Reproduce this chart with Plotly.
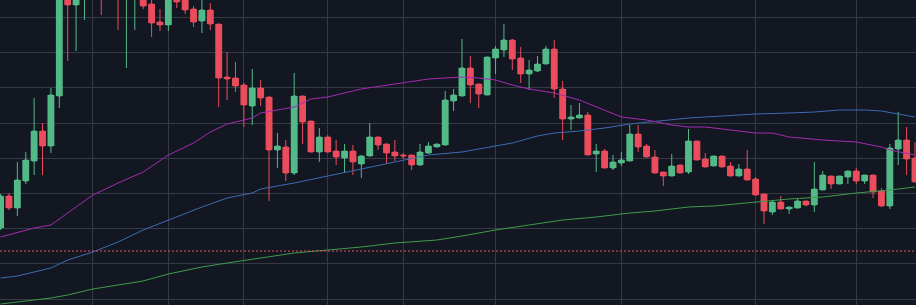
import plotly.graph_objects as go

# ---------------- data ----------------
idx = list(range(110))

open_ = [172,204,192,219,239,269,254,304,404,395,
         406,418,410,402,414,404,412,404,396,378,
         375,405,402,391,379,390,376,323,322,315,
         294,312,303,250,253,227,304,279,248,263,
         249,242,249,236,244,263,256,248,245,245,
         235,247,253,255,299,304,332,316,305,342,
         350,360,342,326,329,336,351,311,281,282,
         285,246,249,232,237,239,266,254,243,228,
         224,235,228,259,241,234,244,234,224,231,
         221,206,188,198,191,192,199,195,210,224,
         216,223,229,219,225,209,194,251,260,242]
close = [204,192,220,240,269,254,305,408,395,406,
         418,410,402,414,404,412,420,394,377,375,
         405,398,390,378,390,376,322,321,314,295,
         312,302,250,254,227,304,278,248,263,248,
         243,249,238,244,263,255,247,244,244,235,
         248,254,256,300,305,332,315,306,343,351,
         360,341,326,330,336,351,311,281,283,285,
         245,249,232,238,240,266,253,243,227,224,
         234,227,259,240,233,244,233,224,231,220,
         205,189,198,191,193,199,195,211,225,216,
         224,229,219,225,208,194,252,260,241,218]
high = [206,207,238,248,302,277,312,414,412,415,
        425,428,416,422,420,420,426,410,400,391,
        410,412,406,394,403,397,376,348,338,317,
        331,320,303,267,260,327,304,279,272,265,
        260,256,255,245,277,263,256,260,247,245,
        256,258,256,309,311,361,344,316,343,354,
        376,361,353,340,344,354,360,319,295,297,
        288,256,251,245,248,275,275,256,250,228,
        246,235,271,259,247,244,244,238,236,250,
        223,206,200,204,193,202,199,238,229,224,
        224,229,232,225,225,212,256,288,273,258]
low = [170,190,184,216,225,225,247,292,339,349,
       380,403,385,401,370,332,370,391,363,369,
       369,392,386,373,367,370,293,300,308,273,
       275,294,199,232,219,225,256,248,238,248,
       235,228,225,222,244,250,237,239,241,230,
       234,246,253,255,289,304,297,292,305,326,
       343,330,317,310,328,336,302,260,270,282,
       245,228,232,230,234,239,248,243,227,214,
       224,227,226,240,233,234,233,224,224,220,
       205,176,185,191,186,192,194,188,210,211,
       216,216,216,216,202,193,191,235,225,218]

ma_fast_x = [0,4,6,8,11,14,17,20,23,25,27,30,31,35,37,39,43,47,51,55,57,59,61,63,66,69,72,74,77,80,82,84,87,90,92,94,98,102,105,106,109]
ma_fast_y = [163,172,175,187,205,217,228,245,257,268,276,282,287,293,301,303,311,316,321,323,322,320,315,311,307,300,290,283,280,275,273,273,270,267,267,263,260,258,253,250,245]

ma_mid_x = [0,2,6,8,11,14,17,20,24,27,30,31,35,39,43,47,51,55,57,61,64,66,69,72,75,79,82,86,90,94,97,100,103,105,107,109]
ma_mid_y = [122,124,132,140,148,158,170,180,193,202,207,211,217,224,231,238,245,248,251,257,264,267,269,272,276,279,282,284,286,287,288,290,290,289,286,283]

ma_slow_x = [0,6,8,11,14,17,20,24,27,31,35,39,43,47,52,55,59,63,67,71,75,78,82,85,90,94,98,102,106,109]
ma_slow_y = [96,102,105,111,115,119,126,133,137,142,147,150,153,157,160,164,170,175,180,183,187,189,193,194,198,201,203,207,210,213]

alert_level = 149

grid_x = [11, 20, 29, 39, 48, 59, 74, 90, 102]
grid_y = [100.9 + 35.2 * k for k in range(9)]

# ---------------- style ----------------
BG = "#131722"
GRID = "#363a45"
UP = "#53b987"
DOWN = "#eb4d5c"

fig = go.Figure()
for xs, ys, col in [(ma_slow_x, ma_slow_y, "#3f9b4a"),
                    (ma_mid_x, ma_mid_y, "#3d6bb3"),
                    (ma_fast_x, ma_fast_y, "#a42bb2")]:
    fig.add_trace(go.Scatter(x=xs, y=ys, mode="lines",
                             line=dict(color=col, width=1),
                             hoverinfo="skip"))

fig.add_hline(y=alert_level, line=dict(color=DOWN, width=1, dash="2px,2px"))

# wicks (and narrow bodies) from the candlestick trace
fig.add_trace(go.Candlestick(
    x=idx, open=open_, high=high, low=low, close=close,
    increasing=dict(line=dict(color=UP, width=1), fillcolor=UP),
    decreasing=dict(line=dict(color=DOWN, width=1), fillcolor=DOWN),
    whiskerwidth=0,
))

# full-width bodies drawn on top
body_base = [min(o, c) for o, c in zip(open_, close)]
body_h = [max(abs(c - o), 0.8) for o, c in zip(open_, close)]
body_col = [UP if c >= o else DOWN for o, c in zip(open_, close)]
fig.add_trace(go.Bar(x=idx, y=body_h, base=body_base, width=0.82,
                     marker=dict(color=body_col, line=dict(width=0)),
                     hoverinfo="skip"))

fig.update_layout(
    width=916, height=305,
    margin=dict(l=0, r=0, t=0, b=0),
    paper_bgcolor=BG, plot_bgcolor=BG,
    showlegend=False,
    barmode="overlay",
    xaxis=dict(range=[-0.07, 109.12], tickvals=grid_x, showticklabels=False,
               ticks="", showgrid=True, gridcolor=GRID, gridwidth=1,
               zeroline=False, showline=False, rangeslider=dict(visible=False)),
    yaxis=dict(range=[95, 400], tickvals=grid_y, showticklabels=False,
               ticks="", showgrid=True, gridcolor=GRID, gridwidth=1,
               zeroline=False, showline=False),
)

fig.write_html("out.html", config={"displayModeBar": False})
